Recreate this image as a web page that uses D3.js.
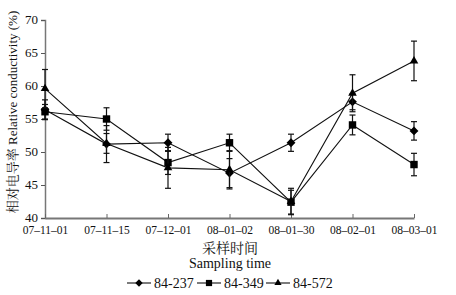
<!DOCTYPE html>
<html>
<head>
<meta charset="utf-8">
<script src="https://cdn.jsdelivr.net/npm/d3@7"></script>
<style>
  body { margin: 0; background: #fff; }
  svg text { font-family: "Liberation Serif", "DejaVu Serif", serif; fill: #111; }
  svg text.cjk { font-family: "Liberation Serif", "Noto Serif CJK SC", "Noto Sans CJK SC", serif; }
</style>
</head>
<body>
<div id="chart"></div>
<script>
// sampling dates
const dates = ["07–11–01", "07–11–15", "07–12–01", "08–01–02", "08–01–30", "08–02–01", "08–03–01"];
const seriesNames = ["84-237", "84-349", "84-572"];
// relative conductivity (%)
const v237 = [56.4, 51.2, 51.4, 46.8, 51.4, 57.6, 53.2];
const v349 = [56.1, 55.0, 48.4, 51.4, 42.4, 54.1, 48.1];
const v572 = [59.6, 51.3, 47.6, 47.3, 42.5, 58.9, 63.8];
// error bars
const e237 = [1.5, 2.8, 1.3, 2.2, 1.3, 1.2, 1.4];
const e349 = [1.1, 1.7, 1.8, 1.3, 1.8, 1.5, 1.7];
const e572 = [2.9, 1.5, 3.1, 2.9, 2.0, 2.8, 3.0];
const yTicks = [40, 45, 50, 55, 60, 65, 70];

const width = 456, height = 295;
const margin = { top: 20, right: 42, bottom: 77, left: 45 };
const w = width - margin.left - margin.right;
const h = height - margin.top - margin.bottom;

const svg = d3.select("#chart").append("svg")
  .attr("width", width).attr("height", height);
const g = svg.append("g").attr("transform", `translate(${margin.left},${margin.top})`);

const x = d3.scalePoint().domain(dates).range([0, w]);
const y = d3.scaleLinear().domain([40, 70]).range([h, 0]);

// axes
const yAxis = g.append("g").call(d3.axisLeft(y).tickValues(yTicks).tickSize(4).tickPadding(3));
yAxis.attr("font-family", null);
yAxis.selectAll("text").style("font-size", "13px").attr("fill", "#222").attr("dy", "0.28em");
yAxis.select(".domain").attr("stroke", "#777").attr("stroke-width", 1.5);
yAxis.selectAll(".tick line").attr("stroke", "#555");

const xAxis = g.append("g").attr("transform", `translate(0,${h})`)
  .call(d3.axisBottom(x).tickSize(0).tickPadding(9));
xAxis.attr("font-family", null);
xAxis.select(".domain").attr("stroke", "#777").attr("stroke-width", 2);
xAxis.selectAll(".tick text").style("font-size", "11.5px").attr("fill", "#222").attr("dy", "0.6em");
xAxis.selectAll(".tick").append("line").attr("y2", -4).attr("stroke", "#666");

const series = [
  { name: seriesNames[0], vals: v237, errs: e237, shape: d3.symbolDiamond2, size: 50 },
  { name: seriesNames[1], vals: v349, errs: e349, shape: d3.symbolSquare, size: 55 },
  { name: seriesNames[2], vals: v572, errs: e572, shape: d3.symbolTriangle, size: 32 }
];

const line = d3.line().x((d, i) => x(dates[i])).y(d => y(d));

series.forEach(s => {
  const eg = g.append("g").attr("stroke", "#111").attr("stroke-width", 1.2);
  s.vals.forEach((v, i) => {
    const cx = x(dates[i]);
    eg.append("line").attr("x1", cx).attr("x2", cx).attr("y1", y(v + s.errs[i])).attr("y2", y(v - s.errs[i]));
    eg.append("line").attr("x1", cx - 3).attr("x2", cx + 3).attr("y1", y(v + s.errs[i])).attr("y2", y(v + s.errs[i]));
    eg.append("line").attr("x1", cx - 3).attr("x2", cx + 3).attr("y1", y(v - s.errs[i])).attr("y2", y(v - s.errs[i]));
  });
  g.append("path").datum(s.vals).attr("d", line)
    .attr("fill", "none").attr("stroke", "#111").attr("stroke-width", 1.1);
  g.selectAll(null).data(s.vals).enter().append("path")
    .attr("d", d3.symbol().type(s.shape).size(s.size))
    .attr("transform", (d, i) => `translate(${x(dates[i])},${y(d)})`)
    .attr("fill", "#000");
});

// axis titles
svg.append("text").attr("class", "cjk")
  .attr("transform", `translate(14,${margin.top + h / 2 - 7}) rotate(-90)`)
  .attr("text-anchor", "middle").attr("dominant-baseline", "middle")
  .style("font-size", "13px")
  .text("相对电导率 Relative conductivity (%)");
svg.append("text").attr("class", "cjk").attr("x", 230).attr("y", 253)
  .attr("text-anchor", "middle").style("font-size", "14px").text("采样时间");
svg.append("text").attr("x", 230).attr("y", 268)
  .attr("text-anchor", "middle").style("font-size", "14px").text("Sampling time");

// legend
const legendX = [127, 197, 266];
series.forEach((s, i) => {
  const lg = svg.append("g").attr("transform", `translate(${legendX[i]},283)`);
  lg.append("line").attr("x1", 0).attr("x2", 24).attr("stroke", "#111").attr("stroke-width", 1.1);
  lg.append("path").attr("d", d3.symbol().type(s.shape).size(s.size * 0.7))
    .attr("transform", "translate(12,0)").attr("fill", "#000");
  lg.append("text").attr("x", 27).attr("y", 5).style("font-size", "14px").text(s.name);
});
</script>
</body>
</html>
